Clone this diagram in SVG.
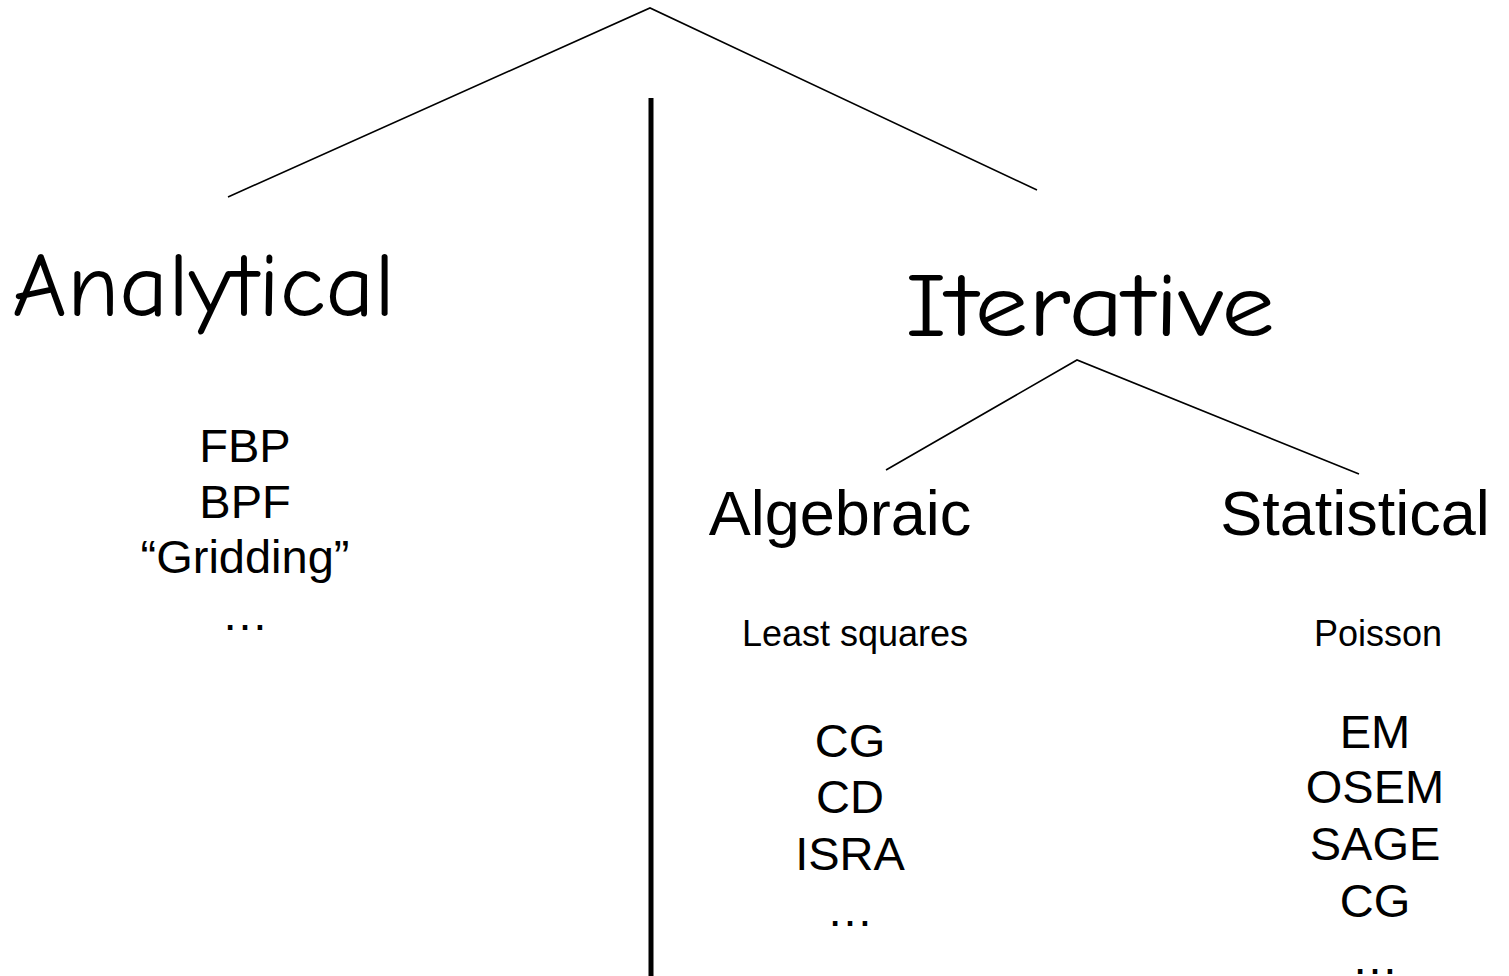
<svg xmlns="http://www.w3.org/2000/svg" width="1509" height="976" viewBox="0 0 1509 976">
<style>
.ln{stroke:#000;stroke-width:1.6;fill:none}
.div{stroke:#000;stroke-width:5;fill:none}
.comic{font-family:"Comic Sans MS","Comic Neue","DejaVu Sans",sans-serif;font-size:92px;fill:#000}
.big{font-family:"Liberation Sans",Arial,sans-serif;font-size:63px;fill:#000;text-anchor:middle}
.mid{font-family:"Liberation Sans",Arial,sans-serif;font-size:47px;fill:#000;text-anchor:middle}
.sm{font-family:"Liberation Sans",Arial,sans-serif;font-size:36px;fill:#000;text-anchor:middle}
</style>
<rect width="1509" height="976" fill="#fff"/>
<g id="connectors">
<polyline class="ln" points="228,197 650,8 1037,190"/>
<polyline class="ln" points="886,470 1077,360 1359,474"/>
<line class="div" x1="651" y1="98" x2="651" y2="976"/>
</g>
<g id="analytical">
<text class="comic" x="12" y="316" textLength="383" lengthAdjust="spacingAndGlyphs">Analytical</text>
</g>
<g id="analytical-list">
<text class="mid" x="245" y="462">FBP</text>
<text class="mid" x="245" y="518">BPF</text>
<text class="mid" x="245" y="573">“Gridding”</text>
<text class="mid" x="245" y="630">…</text>
</g>
<g id="iterative">
<text class="comic" x="905" y="336" textLength="370" lengthAdjust="spacingAndGlyphs">Iterative</text>
</g>
<g id="algebraic">
<text class="big" x="840" y="535">Algebraic</text>
<text class="sm" x="855" y="646">Least squares</text>
<text class="mid" x="850" y="757">CG</text>
<text class="mid" x="850" y="813">CD</text>
<text class="mid" x="850" y="870">ISRA</text>
<text class="mid" x="850" y="926">…</text>
</g>
<g id="statistical">
<text class="big" x="1355" y="535">Statistical</text>
<text class="sm" x="1378" y="646">Poisson</text>
<text class="mid" x="1375" y="748">EM</text>
<text class="mid" x="1375" y="803">OSEM</text>
<text class="mid" x="1375" y="860">SAGE</text>
<text class="mid" x="1375" y="917">CG</text>
<text class="mid" x="1375" y="974">…</text>
</g>
</svg>
